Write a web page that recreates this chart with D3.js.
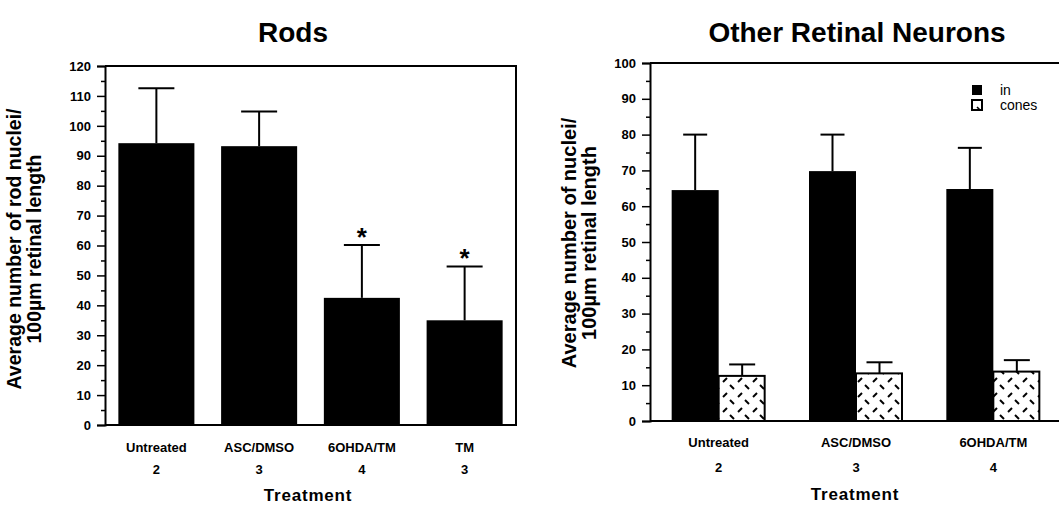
<!DOCTYPE html>
<html>
<head>
<meta charset="utf-8">
<script src="https://cdn.jsdelivr.net/npm/d3@7"></script>
<style>
  body { margin: 0; background: #fff; }
  text { font-family: "Liberation Sans", Arial, sans-serif; font-weight: bold; fill: #000; }
</style>
</head>
<body>
<div id="chart"></div>
<script>
// left panel: rods
var rodCats = ["Untreated", "ASC/DMSO", "6OHDA/TM", "TM"];
var rodN = ["2", "3", "4", "3"];
var rodMean = [94.2, 93.2, 42.5, 35];
var rodErr = [18.4, 11.6, 17.7, 18];
var rodSig = [false, false, true, true];
var rodTicks = [0, 10, 20, 30, 40, 50, 60, 70, 80, 90, 100, 110, 120];

// right panel: other retinal neurons
var otherCats = ["Untreated", "ASC/DMSO", "6OHDA/TM"];
var otherN = ["2", "3", "4"];
var inMean = [64.5, 69.8, 64.8];
var inErr = [15.5, 10.2, 11.5];
var conesMean = [12.6, 13.3, 13.8];
var conesErr = [3.2, 3.1, 3.2];
var otherTicks = [0, 10, 20, 30, 40, 50, 60, 70, 80, 90, 100];
var legendLabels = ["in", "cones"];

var width = 1059;
var height = 506;

var svg = d3.select("#chart")
        .append("svg")
        .attr("width", width)
        .attr("height", height);

// dashed fill for the cones bars
var defs = svg.append("defs");
var pat = defs.append("pattern")
        .attr("id", "dash")
        .attr("patternUnits", "userSpaceOnUse")
        .attr("width", 15)
        .attr("height", 15);
pat.append("rect").attr("width", 15).attr("height", 15).attr("fill", "#fff");
pat.append("line").attr("x1", 3).attr("y1", 7).attr("x2", 7).attr("y2", 3)
    .attr("stroke", "#000").attr("stroke-width", 2);
pat.append("line").attr("x1", 10).attr("y1", 10).attr("x2", 14).attr("y2", 14)
    .attr("stroke", "#000").attr("stroke-width", 2);

function yAxis(g, y, ticks, x0) {
  var minor = [];
  for (var i = 0; i < ticks.length - 1; i++) minor.push((ticks[i] + ticks[i + 1]) / 2);
  g.append("g")
    .attr("transform", "translate(" + x0 + ",0)")
    .call(d3.axisLeft(y).tickValues(minor).tickSize(4).tickFormat(""))
    .call(function(a) { a.select(".domain").remove(); a.selectAll("line").attr("stroke-width", 1.5); });
  var ax = g.append("g")
    .attr("transform", "translate(" + x0 + ",0)")
    .call(d3.axisLeft(y).tickValues(ticks).tickSize(8).tickPadding(6).tickFormat(d3.format("d")));
  ax.select(".domain").attr("stroke-width", 2);
  ax.selectAll("line").attr("stroke-width", 1.5);
  ax.selectAll("text").attr("font-size", "13px").attr("font-family", "Liberation Sans, Arial, sans-serif")
    .attr("font-weight", "bold");
  return ax;
}

function errBar(g, cx, yTop, yBase, half) {
  g.append("line").attr("x1", cx).attr("x2", cx).attr("y1", yTop).attr("y2", yBase)
    .attr("stroke", "#000").attr("stroke-width", 2);
  g.append("line").attr("x1", cx - half).attr("x2", cx + half).attr("y1", yTop).attr("y2", yTop)
    .attr("stroke", "#000").attr("stroke-width", 2);
}

function yTitle(g, cx, cy, size, lines) {
  var t = g.append("text")
    .attr("transform", "translate(" + cx + "," + cy + ") rotate(-90)")
    .attr("text-anchor", "middle")
    .attr("font-size", size + "px");
  lines.forEach(function(l, i) {
    t.append("tspan").attr("x", 0).attr("dy", i == 0 ? 0 : size).text(l);
  });
}

// ---------- Rods ----------
var left = svg.append("g");
var x1 = d3.scaleBand().domain(rodCats).range([105, 516]);
var y1 = d3.scaleLinear().domain([0, 120]).range([425, 66]);

left.append("text").attr("x", 293).attr("y", 42).attr("text-anchor", "middle")
    .attr("font-size", "28px").text("Rods");

var bw1 = x1.bandwidth() * 0.74;
rodCats.forEach(function(c, i) {
  var cx = x1(c) + x1.bandwidth() / 2;
  left.append("rect")
    .attr("x", cx - bw1 / 2).attr("width", bw1)
    .attr("y", y1(rodMean[i])).attr("height", y1(0) - y1(rodMean[i]))
    .attr("fill", "#000");
  errBar(left, cx, y1(rodMean[i] + rodErr[i]), y1(rodMean[i]), 18);
  if (rodSig[i]) {
    left.append("text").attr("x", cx).attr("y", y1(rodMean[i] + rodErr[i]) + 1)
      .attr("text-anchor", "middle").attr("font-size", "26px").text("*");
  }
  left.append("text").attr("x", cx).attr("y", 452).attr("text-anchor", "middle")
    .attr("font-size", "13px").text(c);
  left.append("text").attr("x", cx).attr("y", 474).attr("text-anchor", "middle")
    .attr("font-size", "13px").text(rodN[i]);
});

yAxis(left, y1, rodTicks, 105);
// frame
left.append("path")
  .attr("d", "M105," + y1(120) + "H516V" + y1(0) + "H105")
  .attr("fill", "none").attr("stroke", "#000").attr("stroke-width", 2);

yTitle(left, 21, 249, 19.5, ["Average number of rod nuclei/", "100\u00b5m retinal length"]);
left.append("text").attr("x", 308).attr("y", 501).attr("text-anchor", "middle")
    .attr("font-size", "17px").attr("letter-spacing", "0.8px").text("Treatment");

// ---------- Other retinal neurons ----------
var right = svg.append("g");
var x2 = d3.scaleBand().domain(otherCats).range([650, 1062]);
var y2 = d3.scaleLinear().domain([0, 100]).range([421, 63]);
var sub = d3.scaleBand().domain(legendLabels).range([0, 94]);

right.append("text").attr("x", 857).attr("y", 42).attr("text-anchor", "middle")
    .attr("font-size", "28px").text("Other Retinal Neurons");

otherCats.forEach(function(c, i) {
  var cx = x2(c) + x2.bandwidth() / 2;
  var gx = cx - 47;
  right.append("rect")
    .attr("x", gx + sub("in")).attr("width", sub.bandwidth())
    .attr("y", y2(inMean[i])).attr("height", y2(0) - y2(inMean[i]))
    .attr("fill", "#000");
  errBar(right, gx + sub("in") + sub.bandwidth() / 2, y2(inMean[i] + inErr[i]), y2(inMean[i]), 12);
  right.append("rect")
    .attr("x", gx + sub("cones")).attr("width", sub.bandwidth() - 1)
    .attr("y", y2(conesMean[i])).attr("height", y2(0) - y2(conesMean[i]))
    .attr("fill", "url(#dash)").attr("stroke", "#000").attr("stroke-width", 2);
  errBar(right, gx + sub("cones") + sub.bandwidth() / 2, y2(conesMean[i] + conesErr[i]), y2(conesMean[i]), 13);
  right.append("text").attr("x", cx).attr("y", 447).attr("text-anchor", "middle")
    .attr("font-size", "13px").text(c);
  right.append("text").attr("x", cx).attr("y", 472).attr("text-anchor", "middle")
    .attr("font-size", "13px").text(otherN[i]);
});

yAxis(right, y2, otherTicks, 650);
right.append("path")
  .attr("d", "M650," + y2(100) + "H1059M650," + y2(0) + "H1059")
  .attr("fill", "none").attr("stroke", "#000").attr("stroke-width", 2);

yTitle(right, 576, 243, 20, ["Average number of nuclei/", "100\u00b5m retinal length"]);
right.append("text").attr("x", 855).attr("y", 500).attr("text-anchor", "middle")
    .attr("font-size", "17px").attr("letter-spacing", "0.8px").text("Treatment");

// legend
var leg = right.append("g");
legendLabels.forEach(function(l, i) {
  var ly = 85 + i * 15;
  leg.append("rect").attr("x", 972).attr("y", ly).attr("width", 10).attr("height", 10)
    .attr("fill", i == 0 ? "#000" : "#fff").attr("stroke", "#000").attr("stroke-width", i == 0 ? 0 : 2);
  if (i == 1) {
    leg.append("line").attr("x1", 977).attr("y1", ly + 7).attr("x2", 980).attr("y2", ly + 10)
      .attr("stroke", "#000").attr("stroke-width", 1.6);
  }
  leg.append("text").attr("x", 1000).attr("y", ly + 10)
    .style("font-size", "14px").style("font-weight", "normal").text(l);
});
</script>
</body>
</html>
